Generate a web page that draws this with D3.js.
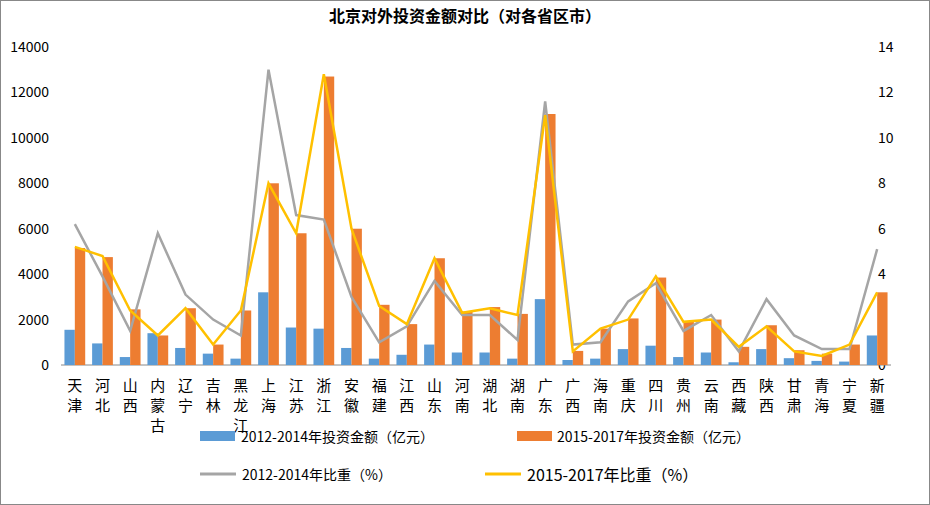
<!DOCTYPE html><html><head><meta charset="utf-8"><script src="https://cdn.jsdelivr.net/npm/d3@7"></script>
<style>body{margin:0;background:#fff}text{font-family:"Noto Sans CJK SC","Liberation Sans",sans-serif}</style></head><body>
<svg id="c" width="930" height="505"></svg>
<script>
const categories=["天津","河北","山西","内蒙古","辽宁","吉林","黑龙江","上海","江苏","浙江","安徽","福建","江西","山东","河南","湖北","湖南","广东","广西","海南","重庆","四川","贵州","云南","西藏","陕西","甘肃","青海","宁夏","新疆"];
const inv1214=[1550,950,350,1400,750,500,280,3200,1650,1600,750,280,450,900,550,550,280,2900,220,280,700,850,350,550,120,700,300,180,150,1300];
const inv1517=[5150,4750,2450,1300,2500,900,2400,8000,5800,12700,6000,2650,1800,4700,2350,2550,2250,11050,620,1600,2050,3850,1900,2000,800,1750,650,500,900,3200];
const pct1214=[6.2,3.9,1.5,5.8,3.1,2.0,1.3,13.0,6.6,6.4,3.0,1.0,1.7,3.7,2.2,2.2,1.1,11.6,0.9,1.0,2.8,3.6,1.5,2.2,0.6,2.9,1.3,0.7,0.7,5.1];
const pct1517=[5.2,4.8,2.4,1.3,2.5,0.9,2.4,8.0,5.8,12.8,6.0,2.6,1.8,4.7,2.3,2.5,2.2,11.0,0.6,1.6,2.0,3.9,1.9,2.0,0.8,1.7,0.6,0.4,0.9,3.2];
const leftTicks=[0,2000,4000,6000,8000,10000,12000,14000];
const rightTicks=[0,2,4,6,8,10,12,14];
const svg=d3.select("#c");
svg.append("rect").attr("x",0.5).attr("y",0.5).attr("width",929).attr("height",504).attr("fill","#fff").attr("stroke","#888");
const L=61,R=891,T=47,B=365;
const x=d3.scaleBand().domain(categories).range([L,R]).paddingInner(0.25).paddingOuter(0.125);
const y=d3.scaleLinear().domain([0,14000]).range([B,T]);
const y2=d3.scaleLinear().domain([0,14]).range([B,T]);
svg.append("text").attr("x",465).attr("y",22).attr("text-anchor","middle").attr("font-size",16).attr("font-weight","bold").text("北京对外投资金额对比（对各省区市）");
const la=svg.append("g").attr("transform",`translate(${L},0)`).call(d3.axisLeft(y).tickValues(leftTicks).tickFormat(d3.format("d")).tickSize(0).tickPadding(12));
la.select(".domain").remove();la.selectAll("text").attr("font-size",14).attr("font-family","Liberation Sans");
const ra=svg.append("g").attr("transform",`translate(878,0)`).call(d3.axisRight(y2).tickValues(rightTicks).tickSize(0).tickPadding(0));
ra.select(".domain").remove();ra.selectAll("text").attr("font-size",14).attr("font-family","Liberation Sans");
svg.append("line").attr("x1",L).attr("x2",R).attr("y1",B).attr("y2",B).attr("stroke","#888");
const bw=x.bandwidth()/2;
svg.selectAll(".b1").data(categories).join("rect").attr("x",d=>x(d)).attr("width",bw).attr("y",(d,i)=>y(inv1214[i])).attr("height",(d,i)=>B-y(inv1214[i])).attr("fill","#5b9bd5");
svg.selectAll(".b2").data(categories).join("rect").attr("x",d=>x(d)+bw).attr("width",bw).attr("y",(d,i)=>y(inv1517[i])).attr("height",(d,i)=>B-y(inv1517[i])).attr("fill","#ed7d31");
const cx=d=>x(d)+x.bandwidth()/2;
const line=arr=>d3.line().x((d,i)=>cx(categories[i])).y(d=>y2(d))(arr);
svg.append("path").attr("d",line(pct1214)).attr("fill","none").attr("stroke","#a5a5a5").attr("stroke-width",2.5);
svg.append("path").attr("d",line(pct1517)).attr("fill","none").attr("stroke","#ffc000").attr("stroke-width",2.5);
categories.forEach(c=>{[...c].forEach((ch,j)=>svg.append("text").attr("x",cx(c)).attr("y",391+j*20).attr("text-anchor","middle").attr("font-size",15).text(ch));});
const lg=svg.append("g");
lg.append("rect").attr("x",200).attr("y",431).attr("width",35).attr("height",10).attr("fill","#5b9bd5");
lg.append("text").attr("x",241).attr("y",442).attr("font-size",14).text("2012-2014年投资金额（亿元）");
lg.append("rect").attr("x",517).attr("y",431).attr("width",35).attr("height",10).attr("fill","#ed7d31");
lg.append("text").attr("x",557).attr("y",442).attr("font-size",14).text("2015-2017年投资金额（亿元）");
lg.append("line").attr("x1",200).attr("x2",236).attr("y1",474).attr("y2",474).attr("stroke","#a5a5a5").attr("stroke-width",3);
lg.append("text").attr("x",242).attr("y",480).attr("font-size",14).text("2012-2014年比重（%）");
lg.append("line").attr("x1",485).attr("x2",521).attr("y1",474).attr("y2",474).attr("stroke","#ffc000").attr("stroke-width",3);
lg.append("text").attr("x",527).attr("y",481).attr("font-size",16).text("2015-2017年比重（%）");
</script></body></html>
